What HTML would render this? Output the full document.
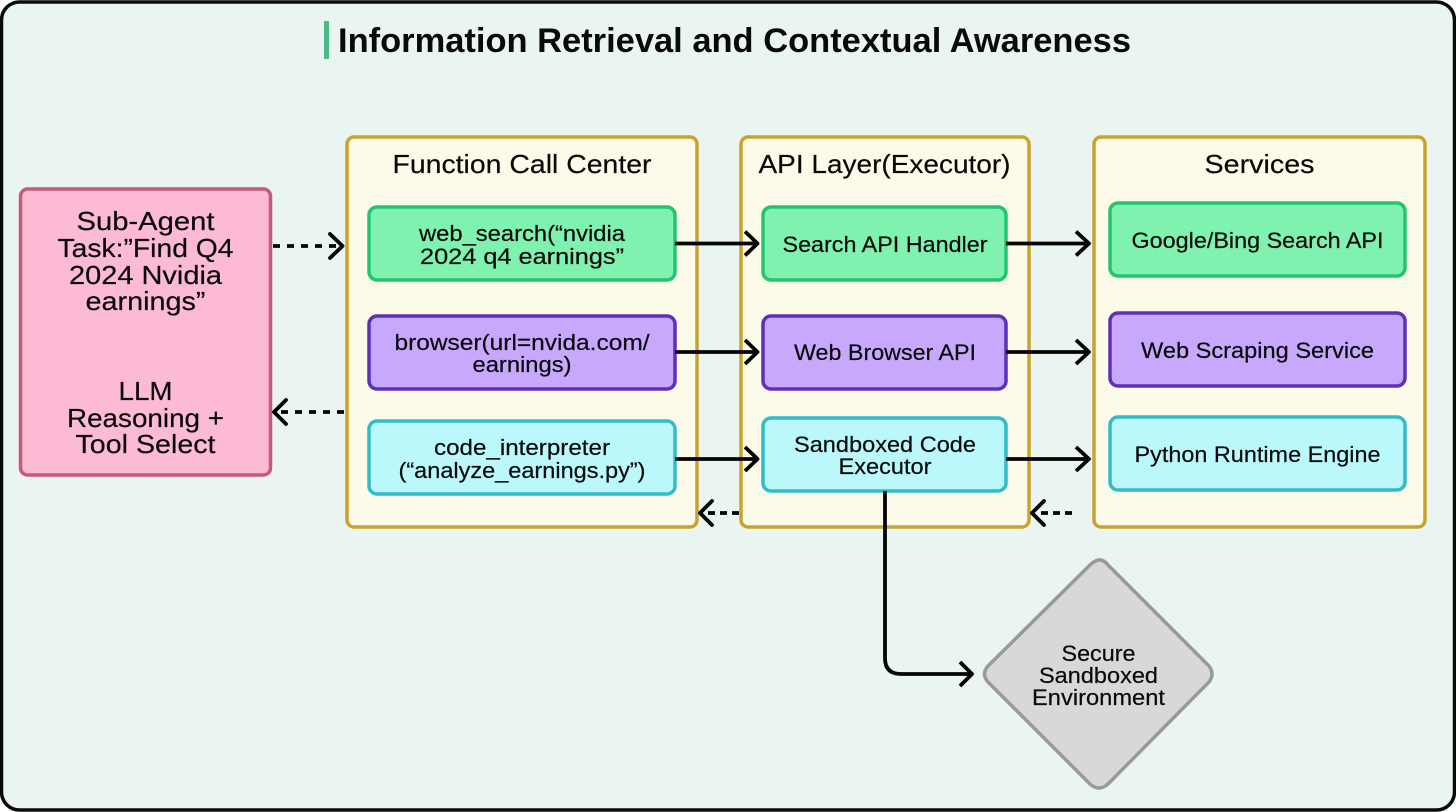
<!DOCTYPE html>
<html><head><meta charset="utf-8"><style>
html,body{margin:0;padding:0;background:#fff;width:1456px;height:812px;overflow:hidden}
svg{display:block}
text{font-family:"Liberation Sans",sans-serif;fill:#0a0a0a;text-anchor:middle;stroke:#0a0a0a;stroke-width:.2px}
</style></head><body>
<svg width="1456" height="812" viewBox="0 0 1456 812" xmlns="http://www.w3.org/2000/svg">
<rect x="1.500" y="2" width="1453" height="808" rx="18" fill="#eaf4f0" stroke="#0a0a0a" stroke-width="3.500"/>
<rect x="324" y="21" width="5" height="38" fill="#4dbb85"/>
<text x="734.500" y="52" font-size="34" font-weight="bold" textLength="793" lengthAdjust="spacingAndGlyphs" style="stroke-width:0">Information Retrieval and Contextual Awareness</text>

<g fill="#fcfbe9" stroke="#c9a42c" stroke-width="3.500">
<rect x="347" y="137" width="350" height="390" rx="7"/>
<rect x="741" y="137" width="288" height="390" rx="7"/>
<rect x="1094" y="137" width="331" height="390" rx="7"/>
</g>
<rect x="20.500" y="189" width="250" height="286" rx="7" fill="#fcbad5" stroke="#c65a7c" stroke-width="3.500"/>

<g stroke-width="3.500">
<g fill="#7ef2ae" stroke="#22c46e">
<rect x="369" y="207" width="306" height="73" rx="8"/>
<rect x="763" y="207" width="243" height="73" rx="8"/>
<rect x="1110" y="203" width="295" height="73" rx="8"/>
</g>
<g fill="#c7a8fd" stroke="#5f2fb5">
<rect x="369" y="316" width="306" height="73" rx="8"/>
<rect x="763" y="316" width="243" height="73" rx="8"/>
<rect x="1110" y="313" width="295" height="73" rx="8"/>
</g>
<g fill="#baf8fc" stroke="#31bcc8">
<rect x="369" y="421" width="306" height="73" rx="8"/>
<rect x="763" y="418" width="243" height="73" rx="8"/>
<rect x="1110" y="417" width="295" height="73" rx="8"/>
</g>
</g>
<path d="M1098.500 560 L1101 560 Q1105 561 1108 565 L1209 666 Q1215 674 1209 682 L1108 784 Q1099 792 1090 784 L988 682 Q981 674 988 666 L1090 565 Q1094 561 1098.500 560Z" fill="#d8d8d8" stroke="#999" stroke-width="3.500"/>

<g fill="none" stroke="#050505" stroke-width="3.800" stroke-linejoin="round">
<path d="M675 243.500H756M745 231.500L757.500 243.500L745 255.500"/>
<path d="M1006 243.500H1088M1076 231.500L1089 243.500L1076 255.500"/>
<path d="M675 352H756M745 340L757.500 352L745 364"/>
<path d="M1006 352H1088M1076 340L1089 352L1076 364"/>
<path d="M675 459H756M745 447L757.500 459L745 471"/>
<path d="M1006 459H1088M1076 447L1089 459L1076 471"/>
<path d="M885 491V658Q885 674 901 674H971M960 662L972 674L960 686"/>
<path d="M273 246H340" stroke-dasharray="7 7"/>
<path d="M330 234L342.500 246L330 258" stroke-linecap="round"/>
<path d="M344 412H276" stroke-dasharray="7 7"/>
<path d="M286 400L274 412L286 424" stroke-linecap="round"/>
<path d="M739 513H705" stroke-dasharray="7 5"/>
<path d="M712 501L700 513L712 525" stroke-linecap="round"/>
<path d="M1072 513H1037" stroke-dasharray="7 5"/>
<path d="M1044 501L1032 513L1044 525" stroke-linecap="round"/>
</g>

<g font-size="26">
<text x="522" y="173" textLength="259" lengthAdjust="spacingAndGlyphs">Function Call Center</text>
<text x="884.500" y="173" textLength="252" lengthAdjust="spacingAndGlyphs">API Layer(Executor)</text>
<text x="1259.500" y="173" textLength="110" lengthAdjust="spacingAndGlyphs">Services</text>
<text x="145.500" y="230" textLength="138" lengthAdjust="spacingAndGlyphs">Sub-Agent</text>
<text x="145.500" y="257" textLength="176" lengthAdjust="spacingAndGlyphs">Task:”Find Q4</text>
<text x="145.500" y="284" textLength="153" lengthAdjust="spacingAndGlyphs">2024 Nvidia</text>
<text x="145.500" y="310" textLength="120" lengthAdjust="spacingAndGlyphs">earnings”</text>
<text x="145.500" y="400" textLength="54" lengthAdjust="spacingAndGlyphs">LLM</text>
<text x="145.500" y="427" textLength="157" lengthAdjust="spacingAndGlyphs">Reasoning +</text>
<text x="145.500" y="453" textLength="140" lengthAdjust="spacingAndGlyphs">Tool Select</text>
</g>
<g font-size="22">
<text x="522" y="241" textLength="206" lengthAdjust="spacingAndGlyphs">web_search(“nvidia</text>
<text x="522" y="264" textLength="204" lengthAdjust="spacingAndGlyphs">2024 q4 earnings”</text>
<text x="522" y="350" textLength="255" lengthAdjust="spacingAndGlyphs">browser(url=nvida.com/</text>
<text x="522" y="372" textLength="99" lengthAdjust="spacingAndGlyphs">earnings)</text>
<text x="522" y="455" textLength="176" lengthAdjust="spacingAndGlyphs">code_interpreter</text>
<text x="522" y="478" textLength="247" lengthAdjust="spacingAndGlyphs">(“analyze_earnings.py”)</text>
<text x="885" y="252" textLength="205" lengthAdjust="spacingAndGlyphs">Search API Handler</text>
<text x="885" y="360" textLength="182" lengthAdjust="spacingAndGlyphs">Web Browser API</text>
<text x="885" y="452" textLength="182" lengthAdjust="spacingAndGlyphs">Sandboxed Code</text>
<text x="885" y="474" textLength="93" lengthAdjust="spacingAndGlyphs">Executor</text>
<text x="1257.500" y="248" textLength="252" lengthAdjust="spacingAndGlyphs">Google/Bing Search API</text>
<text x="1257.500" y="358" textLength="233" lengthAdjust="spacingAndGlyphs">Web Scraping Service</text>
<text x="1257.500" y="462" textLength="246" lengthAdjust="spacingAndGlyphs">Python Runtime Engine</text>
<text x="1098.500" y="661" textLength="74" lengthAdjust="spacingAndGlyphs">Secure</text>
<text x="1098.500" y="683" textLength="119" lengthAdjust="spacingAndGlyphs">Sandboxed</text>
<text x="1098.500" y="705" textLength="133" lengthAdjust="spacingAndGlyphs">Environment</text>
</g>
</svg>
</body></html>
